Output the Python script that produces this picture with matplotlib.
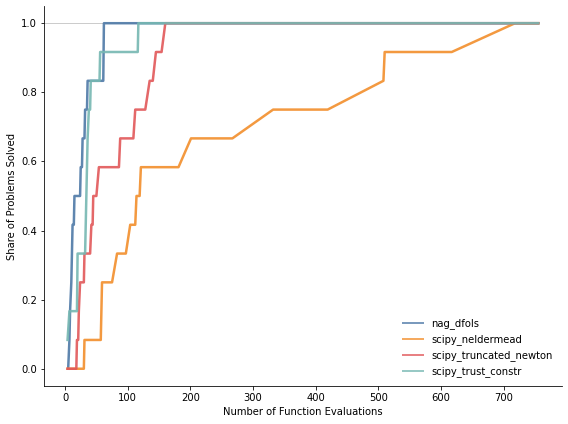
import matplotlib
matplotlib.use("Agg")
import matplotlib.pyplot as plt

# Data profile: budget (function evaluations) vs. number of problems solved (out of 12)
n_problems = 12

nag_dfols_x = [5, 7, 8, 10, 11, 12, 14, 15, 24, 25, 27, 28, 31, 32, 35, 36, 61, 62, 755]
nag_dfols_k = [0, 1, 2, 3, 4, 5, 5, 6, 6, 7, 7, 8, 8, 9, 9, 10, 10, 12, 12]

neldermead_x = [4, 30, 31, 57, 58, 59, 75, 83, 97, 104, 112, 114, 119, 121, 181,
                201, 267, 332, 419, 508, 510, 617, 718, 755]
neldermead_k = [0, 0, 1, 1, 2, 3, 3, 4, 4, 5, 5, 6, 6, 7, 7,
                8, 8, 9, 9, 10, 11, 11, 12, 12]

truncated_newton_x = [4, 18, 19, 21, 22, 24, 30, 31, 40, 42, 44, 45, 50, 54, 86,
                      88, 109, 112, 128, 135, 140, 145, 154, 160, 755]
truncated_newton_k = [0, 0, 1, 1, 2, 3, 3, 4, 4, 5, 5, 6, 6, 7, 7,
                      8, 8, 9, 9, 10, 10, 11, 11, 12, 12]

trust_constr_x = [4, 7, 19, 20, 32, 33, 34, 35, 36, 38, 40, 41, 55, 56, 116, 117, 755]
trust_constr_k = [1, 2, 2, 4, 4, 5, 6, 7, 8, 9, 9, 10, 10, 11, 11, 12, 12]

series = [
    ("nag_dfols", nag_dfols_x, nag_dfols_k, "#4e79a7"),
    ("scipy_neldermead", neldermead_x, neldermead_k, "#f28e2b"),
    ("scipy_truncated_newton", truncated_newton_x, truncated_newton_k, "#e15759"),
    ("scipy_trust_constr", trust_constr_x, trust_constr_k, "#76b7b2"),
]

plt.rcParams["font.size"] = 10
fig = plt.figure(figsize=(568 / 72, 424 / 72), dpi=72)
ax = fig.add_axes([0.0775, 0.0896, 0.9115, 0.8964])

for name, xs, ks, color in series:
    ax.plot(xs, [k / n_problems for k in ks], color=color, lw=2.5, alpha=0.9, label=name)

x_end = max(max(s[1]) for s in series)
left, right = ax.get_xlim()
ax.axhline(1.0, xmin=0, xmax=(x_end - left) / (right - left), color="#cccccc", lw=1, zorder=0)

ax.set_xticks(range(0, 800, 100))
ax.set_yticks([0.0, 0.2, 0.4, 0.6, 0.8, 1.0])
ax.set_xlabel("Number of Function Evaluations")
ax.set_ylabel("Share of Problems Solved")
ax.spines["top"].set_visible(False)
ax.spines["right"].set_visible(False)

leg = ax.legend(loc="lower right", frameon=False)
for line in leg.get_lines():
    line.set_alpha(0.75)
    line.set_linewidth(2)

fig.savefig("out.png", dpi=72)
